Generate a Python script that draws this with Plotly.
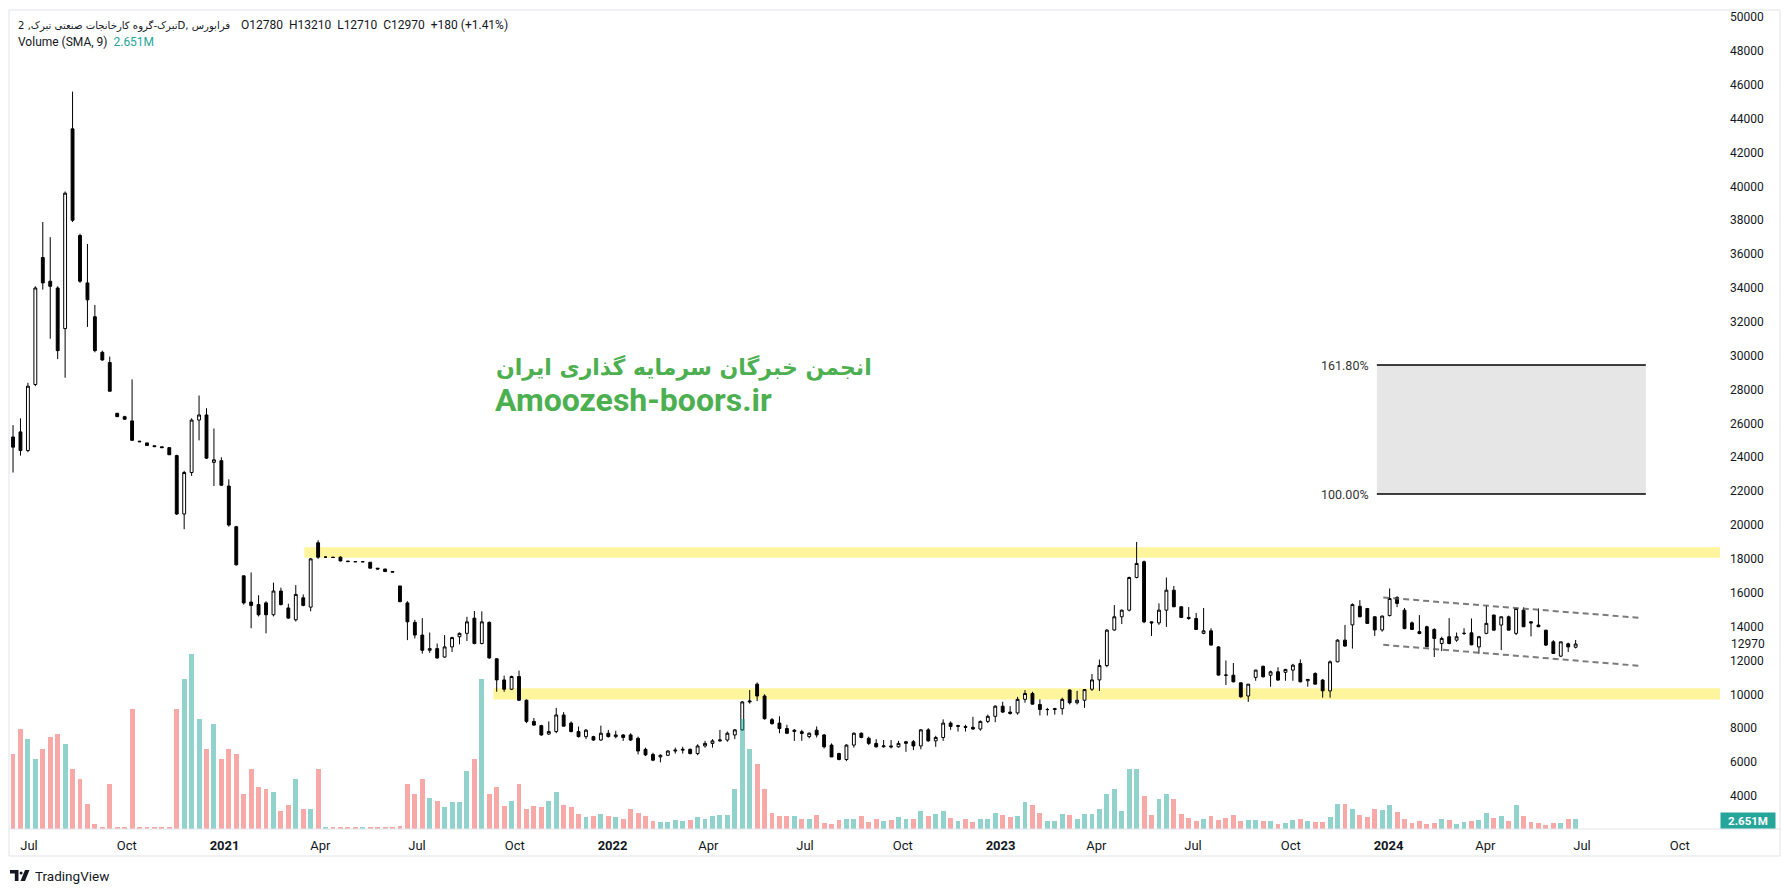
import pandas as pd
import plotly.graph_objects as go

# ---------------- data (weekly candles) ----------------
FIRST_WEEK = "2020-06-16"

OPEN = [
    25200, 25500, 24400, 28300, 35800, 34400, 34000, 31600, 43400, 37100,
    34300, 32300, 30200, 29600, 26600, 26400, 26150, 24950, 24850, 24680,
    24620, 24570, 24100, 20650, 23100, 26200, 26500, 23700, 23800, 22300,
    19900, 17000, 15450, 15300, 15400, 14700, 16100, 15100, 14400, 15700,
    15150, 18950, 18100, 18100, 18100, 17870, 17840, 17830, 17800, 17450,
    17400, 17250, 16400, 15400, 14250, 13500, 12600, 12700, 12200, 12800,
    13400, 13600, 14500, 13000, 14250, 12100, 10850, 10300, 11050, 9650,
    8400, 8150, 7650, 7800, 8780, 8300, 7800, 7500, 7500, 7300,
    7700, 7500, 7600, 7600, 7400, 6750, 6450, 6300, 6400, 6650,
    6700, 6750, 6500, 6950, 7100, 7250, 7300, 7600, 7900, 9550,
    10600, 9900, 8500, 8300, 7980, 7800, 7790, 7500, 7880, 7600,
    7000, 6500, 6150, 7000, 7700, 7400, 7100, 6900, 6950, 6900,
    7100, 7200, 6950, 7900, 7250, 7450, 8300, 8100, 8100, 8050,
    7950, 8400, 8700, 9300, 8950, 8900, 9700, 10050, 9400, 9100,
    9100, 9150, 10250, 9500, 9650, 10300, 10850, 11700, 13800, 14580,
    14970, 16900, 17830, 14280, 14220, 14970, 16150, 15170, 14540, 14480,
    13600, 13750, 12800, 11133, 11130, 10680, 9900, 11000, 11650, 11130,
    11330, 11300, 11430, 11820, 10800, 11230, 10840, 10200, 11920, 13200,
    14100, 15200, 15070, 14580, 13800, 14650, 15720, 14970, 14220, 13700,
    13990, 13830, 13000, 13400, 13200, 13600, 13630, 12800, 13600, 14680,
    14090, 14580, 13600, 14970, 14280, 14090, 13790, 13100, 12255, 12980,
    12780,
]
HIGH = [
    25900, 26300, 28400, 34100, 37900, 37000, 34100, 39700, 45600, 37200,
    36600, 33000, 30300, 29950, 26600, 26450, 28600, 24970, 24860, 24690,
    24630, 24580, 24150, 23200, 26300, 27650, 26900, 25700, 24000, 22700,
    19950, 17000, 17200, 15850, 15500, 16600, 16300, 15350, 16450, 15900,
    18050, 19100, 18150, 18110, 18150, 17880, 17850, 17840, 17800, 17460,
    17410, 17260, 16400, 15500, 14400, 14500, 13650, 13000, 13500, 13400,
    13650, 14580, 14920, 14900, 14300, 12100, 11100, 11100, 11400, 9700,
    8600, 8200, 8400, 9200, 8950, 8400, 8100, 7950, 7550, 8150,
    7900, 7850, 7650, 7700, 7500, 6850, 6550, 6450, 6700, 6850,
    6900, 6800, 7050, 7250, 7350, 7900, 7800, 7950, 9600, 10250,
    10700, 10000, 8600, 8700, 8200, 7950, 7900, 7750, 8100, 7650,
    7100, 6550, 7050, 7750, 7750, 7500, 7350, 7300, 7300, 7250,
    7250, 7300, 7950, 8000, 7550, 8520, 8400, 8200, 8200, 8670,
    8450, 8800, 9350, 9560, 9300, 9850, 10250, 10150, 9700, 9200,
    9200, 9800, 10300, 10200, 10300, 11200, 12050, 13850, 15270, 15000,
    16950, 19000, 17900, 14300, 15370, 16900, 16400, 15200, 15150, 14800,
    15100, 13900, 12850, 12000, 11850, 10700, 10600, 11450, 11700, 11400,
    11600, 11500, 11800, 12060, 10900, 11300, 10900, 12000, 13250, 14100,
    15370, 15560, 15100, 14600, 14650, 16250, 15800, 15100, 14300, 14680,
    14050, 13900, 13400, 14500, 13650, 13900, 14480, 13450, 15270, 14700,
    14600, 14650, 15100, 15130, 14300, 15070, 13800, 13200, 13100, 13050,
    13210,
]
LOW = [
    23100, 24100, 24300, 28200, 33900, 31000, 29800, 28700, 37900, 34300,
    31700, 30200, 29700, 27900, 26400, 26200, 25000, 24900, 24680, 24620,
    24560, 24140, 20600, 19750, 22900, 25000, 23900, 22300, 22300, 19900,
    17600, 15300, 13900, 14600, 13600, 14600, 15250, 14450, 14300, 15200,
    14900, 18000, 18050, 18070, 17850, 17830, 17820, 17820, 17440, 17390,
    17220, 17210, 15450, 13200, 13300, 12400, 12450, 12100, 12150, 12500,
    12950, 13150, 12950, 12950, 12100, 10150, 10150, 10250, 9600, 8300,
    8150, 7550, 7600, 7700, 8100, 7750, 7450, 7350, 7250, 7250,
    7450, 7400, 7250, 7250, 6450, 6350, 6050, 5980, 6350, 6500,
    6500, 6450, 6400, 6850, 6850, 7200, 7200, 7350, 7850, 9450,
    9600, 8500, 8200, 7700, 7650, 7250, 7250, 7400, 7450, 6800,
    6300, 6100, 6050, 6850, 7400, 7000, 6850, 6850, 6800, 6850,
    6600, 6700, 6750, 7200, 6900, 7250, 7900, 7800, 7800, 7900,
    7850, 8300, 8350, 8900, 8800, 8800, 9500, 9400, 8750, 8750,
    8800, 8800, 9400, 9400, 9200, 10200, 10200, 11600, 13750, 14150,
    14900, 16850, 14200, 13450, 14100, 13980, 15150, 14500, 14400, 13800,
    13550, 12900, 11100, 10550, 10700, 9800, 9550, 10800, 11000, 10450,
    10800, 10800, 10800, 10700, 10450, 10600, 9800, 9800, 11900, 12800,
    12700, 14550, 14180, 13450, 13700, 14600, 15150, 13850, 13800, 13550,
    12800, 12200, 12550, 12950, 13100, 13500, 12900, 12400, 13550, 13780,
    12610, 13780, 13500, 13980, 13420, 13980, 12850, 12400, 12200, 12500,
    12710,
]
CLOSE = [
    24600, 24400, 28200, 34000, 34300, 34100, 30300, 39600, 38000, 34400,
    33300, 30300, 29750, 27900, 26400, 26250, 25000, 24920, 24700, 24630,
    24570, 24150, 20650, 23100, 26200, 26500, 23950, 23850, 22350, 20000,
    17650, 15400, 15250, 14700, 14700, 16100, 15300, 14500, 15900, 15250,
    18000, 18100, 18100, 18080, 17880, 17840, 17830, 17830, 17450, 17400,
    17250, 17220, 15470, 14280, 13500, 12600, 12700, 12150, 12800, 13350,
    13600, 14280, 13000, 14280, 12150, 10850, 10300, 11050, 9650, 8400,
    8180, 7600, 7800, 8780, 8120, 7800, 7500, 7880, 7300, 7700,
    7500, 7600, 7450, 7300, 6650, 6420, 6110, 6400, 6650, 6700,
    6750, 6500, 6950, 7100, 7250, 7300, 7700, 7900, 9550, 9600,
    9900, 8560, 8270, 7980, 7700, 7880, 7690, 7700, 7600, 6900,
    6300, 6150, 7000, 7700, 7450, 7100, 6900, 6950, 6900, 7100,
    7200, 6950, 7900, 7250, 7450, 8300, 8100, 8150, 8050, 7950,
    8400, 8700, 9300, 8950, 8870, 9700, 10050, 9420, 9100, 9100,
    9150, 9700, 9500, 9650, 10280, 10850, 11700, 13790, 14580, 14970,
    16900, 17730, 14280, 14220, 14970, 16150, 15170, 14540, 14480, 13830,
    13750, 12905, 11133, 11130, 10740, 9853, 10600, 11430, 11034, 11330,
    10840, 11470, 11723, 10740, 10880, 10600, 10207, 11920, 13200, 12850,
    15300, 14580, 14185, 13800, 14620, 15660, 15370, 13880, 13830, 13590,
    12810, 13300, 13300, 13000, 13400, 13600, 12920, 13400, 14190, 13790,
    14580, 13790, 15070, 13990, 14220, 13990, 12905, 12413, 13100, 12800,
    12970,
]
VOLUME_M = [
    19.9, 26.5, 23.9, 18.6, 21.2, 24.4, 25.2, 22.5, 15.9, 13.3,
    6.6, 1.3, 0.5, 11.9, 0.5, 0.5, 31.8, 0.4, 0.4, 0.4,
    0.4, 0.4, 31.8, 39.8, 46.4, 29.2, 21.2, 27.8, 18.6, 21.2,
    19.9, 9.3, 15.9, 11.1, 10.6, 9.8, 4.8, 6.4, 13.3, 5.3,
    5.3, 15.9, 0.4, 0.4, 0.4, 0.4, 0.4, 0.4, 0.4, 0.4,
    0.4, 0.4, 0.8, 11.9, 9.3, 13.3, 8.2, 7.4, 5.8, 7.2,
    7.2, 15.4, 18.6, 39.8, 9.3, 11.1, 6.1, 7.4, 11.9, 5.3,
    6.1, 5.8, 7.4, 9.8, 6.4, 5.8, 4.0, 3.2, 3.4, 4.0,
    3.4, 3.2, 2.7, 5.3, 4.2, 3.4, 2.1, 1.9, 1.9, 2.4,
    2.1, 2.4, 3.2, 2.7, 3.4, 3.7, 3.7, 10.6, 29.2, 21.2,
    17.2, 10.6, 4.2, 3.4, 3.4, 3.4, 2.7, 2.7, 3.7, 1.6,
    1.3, 2.4, 2.7, 2.7, 3.4, 1.9, 2.7, 2.1, 2.4, 3.2,
    2.7, 2.7, 4.8, 3.4, 4.0, 4.8, 2.9, 2.1, 2.7, 1.9,
    2.7, 2.7, 4.2, 3.7, 3.2, 3.4, 7.2, 6.4, 4.2, 2.1,
    2.1, 4.0, 3.7, 2.7, 4.0, 4.0, 5.3, 9.3, 10.6, 4.8,
    15.9, 15.9, 8.7, 3.7, 8.0, 9.3, 8.0, 4.0, 2.9, 2.1,
    2.7, 3.4, 2.4, 2.9, 3.7, 2.1, 2.4, 2.4, 2.1, 2.1,
    1.3, 1.6, 2.4, 2.7, 2.1, 1.9, 1.9, 3.2, 6.6, 6.6,
    5.3, 3.7, 3.2, 5.3, 5.0, 6.4, 4.5, 2.7, 1.6, 2.1,
    1.3, 1.6, 2.7, 2.4, 1.3, 1.9, 2.1, 2.4, 4.2, 2.9,
    3.4, 2.1, 6.4, 3.4, 1.9, 1.6, 1.1, 1.6, 1.6, 2.7,
    2.7,
]

TICK_DATES = ["2020-07-01", "2020-10-01", "2021-01-01", "2021-04-01", "2021-07-01",
              "2021-10-01", "2022-01-01", "2022-04-01", "2022-07-01", "2022-10-01",
              "2023-01-01", "2023-04-01", "2023-07-01", "2023-10-01", "2024-01-01",
              "2024-04-01", "2024-07-01", "2024-10-01"]
TICK_TEXT = ["Jul", "Oct", "2021", "Apr", "Jul", "Oct", "2022", "Apr", "Jul", "Oct",
             "2023", "Apr", "Jul", "Oct", "2024", "Apr", "Jul", "Oct"]

X_RANGE = ["2020-06-12 05:00", "2024-11-07 19:00"]
Y_RANGE = [2044, 50420]
VOL_RANGE_M = [0, 217]

RESIST_BAND = (18060, 18690)
RESIST_START = "2021-03-17"
SUPPORT_BAND = (9690, 10360)
SUPPORT_START = "2021-09-11"

FIB_START, FIB_END = "2023-12-21", "2024-08-30"
FIB_LEVELS = [("100.00%", 21830), ("161.80%", 29450)]

CHANNEL_START, CHANNEL_END = "2023-12-27", "2024-08-25"
CHANNEL_UPPER = (15720, 14515)
CHANNEL_LOWER = (12920, 11680)

SYMBOL_TITLE = "تبرک-گروه کارخانجات صنعتی تبرک, 2D, فرابورس"
LAST_O, LAST_H, LAST_L, LAST_C = 12780, 13210, 12710, 12970
LAST_CHANGE, LAST_CHANGE_PCT = 180, 1.41
VOL_SMA_TEXT = "2.651M"
WATERMARK_FA = "انجمن خبرگان سرمایه گذاری ایران"
WATERMARK_EN = "Amoozesh-boors.ir"

# ---------------- geometry helpers (layout only, window pixel coords) ----------------
WIN_W, WIN_H = 1790, 892
OFF = 8                      # default page body margin
FIG_W, FIG_H = WIN_W - OFF, WIN_H - OFF
PL, PR, PT, PB = 9, 1720, 10, 829


def px(x):
    return (x - PL) / (PR - PL)


def py(y):
    return (PB - y) / (PB - PT)


TEXT = "#131722"
FONT = "Roboto, 'DejaVu Sans', sans-serif"

dates = pd.date_range(FIRST_WEEK, periods=len(CLOSE), freq="7D")
vol_colors = ["rgba(38,166,154,0.5)" if c >= o else "rgba(239,83,80,0.5)"
              for o, c in zip(OPEN, CLOSE)]
tick_labels = [f"<b>{t}</b>" if t.isdigit() else t for t in TICK_TEXT]

fig = go.Figure()
fig.add_trace(go.Bar(
    x=dates, y=VOLUME_M, yaxis="y2",
    marker=dict(color=vol_colors, line=dict(width=0)),
    width=4.6 * 86400000, hoverinfo="skip", showlegend=False,
))
fig.add_trace(go.Candlestick(
    x=dates, open=OPEN, high=HIGH, low=LOW, close=CLOSE,
    increasing=dict(line=dict(color="#000000", width=1), fillcolor="#ffffff"),
    decreasing=dict(line=dict(color="#000000", width=1), fillcolor="#000000"),
    whiskerwidth=0, hoverinfo="skip", showlegend=False,
))

shapes = []
for (lo, hi), start in [(RESIST_BAND, RESIST_START), (SUPPORT_BAND, SUPPORT_START)]:
    shapes.append(dict(type="rect", xref="x", yref="y", x0=start, x1="2025-06-01",
                       y0=lo, y1=hi, fillcolor="#fff59d", line=dict(width=0), layer="below"))
shapes.append(dict(type="rect", xref="x", yref="y", x0=FIB_START, x1=FIB_END,
                   y0=FIB_LEVELS[0][1], y1=FIB_LEVELS[1][1], fillcolor="#e6e6e6",
                   line=dict(width=0), layer="below"))
for _, lvl in FIB_LEVELS:
    shapes.append(dict(type="line", xref="x", yref="y", x0=FIB_START, x1=FIB_END,
                       y0=lvl, y1=lvl, line=dict(color="#000000", width=1.5)))
for a, b in [CHANNEL_UPPER, CHANNEL_LOWER]:
    shapes.append(dict(type="line", xref="x", yref="y", x0=CHANNEL_START, x1=CHANNEL_END,
                       y0=a, y1=b, line=dict(color="rgba(90,90,90,0.8)", width=2, dash="6px,4px")))
frame = "#e0e3eb"
shapes.append(dict(type="rect", xref="paper", yref="paper", x0=px(PL), x1=px(1780),
                   y0=py(856), y1=py(PT), line=dict(color=frame, width=1), fillcolor="rgba(0,0,0,0)"))
shapes.append(dict(type="line", xref="paper", yref="paper", x0=px(PL), x1=px(1780),
                   y0=py(PB), y1=py(PB), line=dict(color=frame, width=1)))


def P(x, y):
    return f"{px(x):.5f},{py(y):.5f}"


shapes.append(dict(type="path", xref="paper", yref="paper",
                   path="M" + P(10, 870) + " L" + P(18.5, 870) + " L" + P(18.5, 881) + " L" + P(14.8, 881)
                        + " L" + P(14.8, 873.6) + " L" + P(10, 873.6) + " Z",
                   fillcolor=TEXT, line=dict(width=0)))
shapes.append(dict(type="circle", xref="paper", yref="paper", x0=px(19.6), x1=px(22.6),
                   y0=py(874.6), y1=py(871.4), fillcolor=TEXT, line=dict(width=0)))
shapes.append(dict(type="path", xref="paper", yref="paper",
                   path="M" + P(25, 870) + " L" + P(29.5, 870) + " L" + P(25, 881) + " L" + P(20.5, 881) + " Z",
                   fillcolor=TEXT, line=dict(width=0)))

sp = "\u00a0\u00a0"
header_ohlc = (f"O{LAST_O}{sp}H{LAST_H}{sp}L{LAST_L}{sp}C{LAST_C}"
               f"{sp}+{LAST_CHANGE} (+{LAST_CHANGE_PCT:.2f}%)")
header2 = f"Volume (SMA, 9){sp}<span style='color:#26a69a'>{VOL_SMA_TEXT}</span>"

annotations = [
    dict(xref="paper", yref="paper", x=px(16), y=py(25), xanchor="left", yanchor="middle",
         text=SYMBOL_TITLE, showarrow=False,
         font=dict(family="'DejaVu Sans', sans-serif", size=10.1, color=TEXT)),
    dict(xref="paper", yref="paper", x=px(239), y=py(25), xanchor="left", yanchor="middle",
         text=header_ohlc, showarrow=False, font=dict(family=FONT, size=12, color=TEXT)),
    dict(xref="paper", yref="paper", x=px(16), y=py(42.5), xanchor="left", yanchor="middle",
         text=header2, showarrow=False, font=dict(family=FONT, size=12, color=TEXT)),
    dict(xref="paper", yref="paper", x=px(494), y=py(367), xanchor="left", yanchor="middle",
         text=f"<b>{WATERMARK_FA}</b>", showarrow=False,
         font=dict(family="'DejaVu Sans', sans-serif", size=22, color="#4caf50")),
    dict(xref="paper", yref="paper", x=px(493), y=py(400), xanchor="left", yanchor="middle",
         text=f"<b>{WATERMARK_EN}</b>", showarrow=False,
         font=dict(family="Roboto, sans-serif", size=32, color="#4caf50")),
    dict(xref="paper", yref="y", x=1.0, y=LAST_C, xanchor="left", yanchor="middle", xshift=9,
         text=str(LAST_C), showarrow=False, font=dict(family=FONT, size=12, color=TEXT)),
    dict(xref="paper", yref="paper", x=px(1747.5), y=py(820.5), xanchor="center", yanchor="middle",
         text=f"<b>{VOL_SMA_TEXT}</b>", showarrow=False, bgcolor="#26a69a", width=51, height=12,
         borderpad=1.5, font=dict(family=FONT, size=11.5, color="#ffffff")),
    dict(xref="paper", yref="paper", x=px(33), y=py(875.5), xanchor="left", yanchor="middle",
         text="TradingView", showarrow=False, font=dict(family=FONT, size=13.5, color=TEXT)),
]
for name, lvl in FIB_LEVELS:
    annotations.append(dict(xref="x", yref="y", x=FIB_START, y=lvl, xanchor="right", yanchor="middle",
                            xshift=-6, text=name, showarrow=False,
                            font=dict(family=FONT, size=12.5, color="#333333")))

fig.update_layout(
    width=FIG_W, height=FIG_H,
    margin=dict(l=PL - OFF, r=WIN_W - PR, t=PT - OFF, b=WIN_H - PB, pad=0),
    paper_bgcolor="#ffffff", plot_bgcolor="#ffffff",
    showlegend=False, hovermode=False, boxgap=0.45, bargap=0,
    shapes=shapes, annotations=annotations,
    xaxis=dict(type="date", range=X_RANGE, tickvals=TICK_DATES, ticktext=tick_labels,
               showgrid=False, zeroline=False, showline=False, ticks="", automargin=False,
               tickfont=dict(family=FONT, size=13, color=TEXT),
               rangeslider=dict(visible=False), fixedrange=True, ticklabelstandoff=7),
    yaxis=dict(side="right", range=Y_RANGE, tick0=0, dtick=2000, tickformat="d",
               showgrid=False, zeroline=False, showline=False, ticks="", automargin=False,
               ticklabelstandoff=9, tickfont=dict(family=FONT, size=12, color=TEXT),
               fixedrange=True),
    yaxis2=dict(overlaying="y", range=VOL_RANGE_M, visible=False, fixedrange=True),
)

fig.write_html("out.html")
